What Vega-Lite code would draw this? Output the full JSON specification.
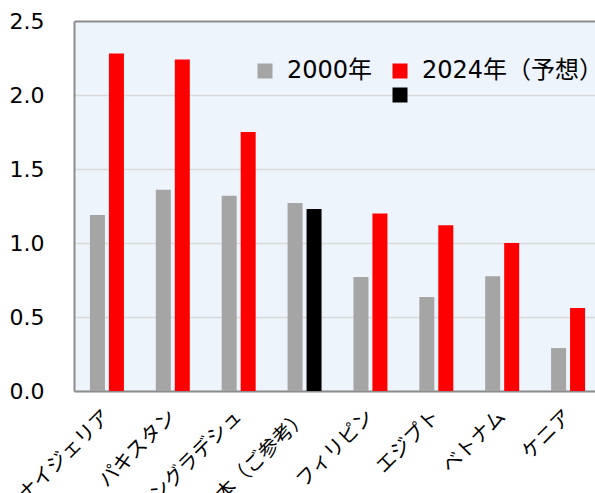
{
  "$schema": "https://vega.github.io/schema/vega-lite/v6.json",
  "width": 521,
  "height": 370,
  "autosize": "none",
  "padding": {"left": 74, "top": 21, "right": 0, "bottom": 102},
  "background": "white",
  "config": {
    "view": {"fill": "#EEF4FC", "stroke": null},
    "font": "DejaVu Sans, Noto Sans CJK JP"
  },
  "data": {
    "values": [
      {"country": "ナイジェリア", "year": "2000", "ckey": "2000年", "value": 1.19},
      {"country": "ナイジェリア", "year": "2024", "ckey": "2024年（予想）", "value": 2.28},
      {"country": "パキスタン", "year": "2000", "ckey": "2000年", "value": 1.36},
      {"country": "パキスタン", "year": "2024", "ckey": "2024年（予想）", "value": 2.24},
      {"country": "バングラデシュ", "year": "2000", "ckey": "2000年", "value": 1.32},
      {"country": "バングラデシュ", "year": "2024", "ckey": "2024年（予想）", "value": 1.75},
      {"country": "日本（ご参考）", "year": "2000", "ckey": "2000年", "value": 1.27},
      {"country": "日本（ご参考）", "year": "2024", "ckey": "日本", "value": 1.23},
      {"country": "フィリピン", "year": "2000", "ckey": "2000年", "value": 0.77},
      {"country": "フィリピン", "year": "2024", "ckey": "2024年（予想）", "value": 1.20},
      {"country": "エジプト", "year": "2000", "ckey": "2000年", "value": 0.635},
      {"country": "エジプト", "year": "2024", "ckey": "2024年（予想）", "value": 1.12},
      {"country": "ベトナム", "year": "2000", "ckey": "2000年", "value": 0.775},
      {"country": "ベトナム", "year": "2024", "ckey": "2024年（予想）", "value": 1.0},
      {"country": "ケニア", "year": "2000", "ckey": "2000年", "value": 0.29},
      {"country": "ケニア", "year": "2024", "ckey": "2024年（予想）", "value": 0.56}
    ]
  },
  "mark": {"type": "bar"},
  "encoding": {
    "x": {
      "field": "country",
      "type": "nominal",
      "sort": null,
      "scale": {"range": [0, 527], "paddingInner": 0.484, "paddingOuter": 0.242},
      "axis": {
        "title": null,
        "domainColor": "#8C8C8C",
        "domainWidth": 2,
        "ticks": false,
        "grid": false,
        "labelAngle": -45,
        "labelAlign": "right",
        "labelBaseline": "middle",
        "labelFontSize": 20,
        "labelColor": "#000000",
        "labelPadding": 22
      }
    },
    "xOffset": {
      "field": "year",
      "type": "nominal",
      "scale": {"paddingInner": 0.21, "paddingOuter": 0}
    },
    "y": {
      "field": "value",
      "type": "quantitative",
      "scale": {"domain": [0, 2.5], "nice": false},
      "axis": {
        "title": null,
        "values": [0, 0.5, 1, 1.5, 2, 2.5],
        "format": ".1f",
        "domainColor": "#8C8C8C",
        "domainWidth": 2,
        "ticks": false,
        "grid": true,
        "gridColor": {"condition": {"test": "datum.value === 2.5", "value": "#8C8C8C"}, "value": "#D9D9D9"},
        "gridWidth": {"condition": {"test": "datum.value === 2.5", "value": 2}, "value": 1.5},
        "labelFontSize": 22,
        "labelColor": "#000000",
        "labelPadding": 30
      }
    },
    "color": {
      "field": "ckey",
      "type": "nominal",
      "scale": {
        "domain": ["2000年", "blank", "2024年（予想）", "日本"],
        "range": ["#A5A5A5", "transparent", "#FF0000", "#000000"]
      },
      "legend": {
        "title": null,
        "orient": "none",
        "legendX": 179,
        "legendY": 38,
        "columns": 2,
        "padding": 0,
        "columnPadding": 15,
        "rowPadding": -9,
        "symbolType": "square",
        "symbolSize": 225,
        "symbolStrokeWidth": 0,
        "symbolOpacity": 1,
        "labelFontSize": 24,
        "labelLimit": 400,
        "labelColor": "#000000",
        "labelOffset": 10,
        "labelExpr": "datum.label === '2000年' || datum.label === '2024年（予想）' ? datum.label : ''"
      }
    }
  }
}
